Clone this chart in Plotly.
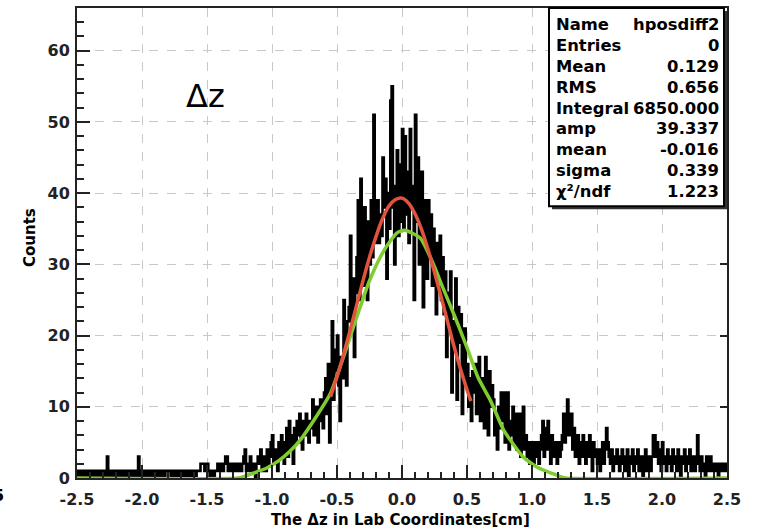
import numpy as np
import plotly.graph_objects as go

# ---------------- data ----------------
X_MIN = -2.5
BIN_WIDTH = 0.01

# histogram counts, 500 bins of 0.01 from -2.5 to 2.5 (rows of 10 bins = 0.1)
counts = [
    1,0,1,1,0,0,1,0,1,1,   # -2.5
    0,1,1,0,0,1,0,1,0,0,   # -2.4
    1,0,1,3,0,1,0,0,1,0,   # -2.3
    1,1,0,0,1,0,0,1,1,0,   # -2.2
    0,1,0,1,1,0,1,3,0,1,   # -2.1
    0,0,1,0,0,1,1,0,1,0,   # -2.0
    1,0,0,1,1,0,1,0,1,1,   # -1.9
    1,1,0,1,0,1,1,0,0,1,   # -1.8
    0,1,1,0,1,1,0,1,1,0,   # -1.7
    1,0,1,1,1,2,2,2,1,1,   # -1.6
    2,1,0,1,1,0,1,1,2,1,   # -1.5
    1,2,1,2,3,3,1,2,1,2,   # -1.4
    2,1,1,2,1,2,1,2,3,4,   # -1.3
    1,2,1,3,2,1,2,0,2,3,   # -1.2
    2,4,1,3,2,1,4,2,3,5,   # -1.1
    6,2,3,4,1,5,3,6,4,2,   # -1.0
    5,7,3,8,4,6,2,7,5,8,   # -0.9
    6,9,5,4,8,6,9,7,5,8,   # -0.8
    7,11,6,9,10,5,8,11,9,7,  # -0.7
    12,14,9,16,5,13,22,11,18,15,  # -0.6
    20,13,8,17,14,25,19,13,22,24,  # -0.5
    34,22,28,17,26,31,39,25,42,30,  # -0.4
    27,38,33,25,36,30,39,31,51,33,  # -0.3
    36,39,33,37,34,45,38,42,28,40,  # -0.2
    35,53,55,38,30,41,46,34,44,36,  # -0.1
    49,35,48,37,43,33,49,38,41,25,  # 0.0
    51,36,45,30,40,43,24,36,39,28,  # 0.1
    39,31,37,27,35,30,23,33,28,34,  # 0.2
    25,31,23,29,17,26,21,29,12,22,  # 0.3
    18,28,11,24,19,23,9,17,21,13,   # 0.4
    16,10,14,8,15,12,16,9,13,17,    # 0.5
    8,14,11,7,17,12,6,15,10,13,     # 0.6
    11,6,9,4,10,7,12,8,12,5,        # 0.7
    9,12,4,8,6,10,5,9,4,7,          # 0.8
    9,3,7,10,4,6,3,5,2,5,           # 0.9
    4,2,5,3,5,2,4,6,8,3,            # 1.0
    7,4,8,5,2,6,3,5,4,2,            # 1.1
    5,3,4,6,9,5,7,11,6,8,           # 1.2
    9,4,7,3,5,6,2,5,3,6,            # 1.3
    4,2,5,3,6,4,1,5,3,4,            # 1.4
    2,4,1,3,5,2,4,7,5,3,            # 1.5
    2,4,1,3,2,4,3,1,2,4,            # 1.6
    3,1,2,4,0,3,2,4,1,3,            # 1.7
    2,4,1,2,3,0,2,4,1,3,            # 1.8
    2,1,3,6,6,3,5,2,4,1,            # 1.9
    5,2,3,1,4,2,3,1,4,2,            # 2.0
    3,1,4,2,0,3,2,4,1,3,            # 2.1
    2,4,1,3,2,1,3,6,2,1,            # 2.2
    3,1,2,0,3,1,2,3,1,2,            # 2.3
    1,2,1,0,2,1,2,1,2,1,            # 2.4
]

# red fit curve
red_x = [-0.55, -0.50, -0.45, -0.40, -0.35, -0.30, -0.25, -0.20, -0.15, -0.10, -0.05,
         0.00, 0.05, 0.10, 0.15, 0.20, 0.25, 0.30, 0.35, 0.40, 0.45, 0.50, 0.53]
red_y = [11.4, 14.2, 17.3, 20.7, 24.2, 27.7, 31.0, 33.9, 36.4, 38.2, 39.1,
         39.3, 38.6, 37.1, 34.9, 32.1, 28.9, 25.5, 22.0, 18.5, 15.3, 12.4, 10.8]

# green curve
green_x = [-2.5, -1.26, -1.22, -1.14, -1.04, -0.95, -0.86, -0.78, -0.66, -0.55, -0.45,
           -0.35, -0.25, -0.14, -0.04, 0.02, 0.14, 0.23, 0.315, 0.41, 0.50, 0.585,
           0.68, 0.78, 0.85, 0.93, 1.04, 1.16, 1.22, 1.26, 2.5]
green_y = [0.0, 0.0, 0.2, 0.7, 1.4, 2.4, 3.8, 5.4, 8.6, 11.9, 17.0,
           22.5, 27.7, 31.9, 34.4, 34.8, 33.7, 30.5, 26.7, 22.5, 18.3, 14.1,
           10.9, 6.8, 4.9, 3.0, 1.5, 0.6, 0.2, 0.0, 0.0]

stats_labels = ["Name", "Entries", "Mean", "RMS", "Integral", "amp", "mean", "sigma", "χ²/ndf"]
stats_values = ["hposdiff2", "0", "0.129", "0.656", "6850.000", "39.337", "-0.016", "0.339", "1.223"]

x_ticks = [-2.5, -2.0, -1.5, -1.0, -0.5, 0.0, 0.5, 1.0, 1.5, 2.0, 2.5]
x_tick_text = ["-2.5", "-2.0", "-1.5", "-1.0", "-0.5", "0.0", "0.5", "1.0", "1.5", "2.0", "2.5"]
y_ticks = [0, 10, 20, 30, 40, 50, 60]

# ---------------- figure ----------------
W, H = 759, 532
L, R, T, B = 77, 32, 6, 54
PW, PH = W - L - R, H - T - B

def px(xp):
    return (xp - L) / PW

def py(yp):
    return (H - B - yp) / PH

edges = X_MIN + BIN_WIDTH * np.arange(len(counts) + 1)
step_y = list(counts) + [counts[-1]]

FONT = "DejaVu Sans"

fig = go.Figure()
fig.add_trace(go.Scatter(x=edges, y=step_y, mode="lines", line=dict(color="black", width=2.6, shape="hv"),
                         hoverinfo="skip", showlegend=False))
fig.add_trace(go.Scatter(x=green_x, y=green_y, mode="lines", line=dict(color="#7fcc2e", width=3.5, shape="spline", smoothing=0.6),
                         showlegend=False))
fig.add_trace(go.Scatter(x=red_x, y=red_y, mode="lines", line=dict(color="#e2533d", width=3.5, shape="spline"),
                         showlegend=False))
# invisible trace on right axis for mirrored ticks
fig.add_trace(go.Scatter(x=[0], y=[0], yaxis="y2", mode="markers", marker=dict(opacity=0), showlegend=False, hoverinfo="skip"))

tickfont = dict(family=FONT, size=16, color="#222", weight="bold")

fig.update_layout(
    width=W, height=H,
    margin=dict(l=L, r=R, t=T, b=B),
    paper_bgcolor="white", plot_bgcolor="white",
    showlegend=False,
    xaxis=dict(range=[-2.5, 2.5], tickmode="array", tickvals=x_ticks, ticktext=x_tick_text,
               ticks="inside", ticklen=13, tickwidth=2, tickcolor="#222",
               minor=dict(dtick=0.1, ticks="inside", ticklen=6, tickwidth=2, tickcolor="#222", showgrid=False),
               showline=True, linecolor="#222", linewidth=2, mirror=True,
               showgrid=True, gridcolor="#c8c8c8", griddash="dash", gridwidth=1,
               zeroline=False, tickfont=tickfont, ticklabelstandoff=6),
    yaxis=dict(range=[0, 66], tickmode="array", tickvals=y_ticks,
               ticks="inside", ticklen=13, tickwidth=2, tickcolor="#222",
               minor=dict(dtick=2, ticks="inside", ticklen=7, tickwidth=2, tickcolor="#222", showgrid=False),
               showline=True, linecolor="#222", linewidth=2, mirror=True,
               showgrid=True, gridcolor="#c8c8c8", griddash="dash", gridwidth=1,
               zeroline=False, tickfont=tickfont, ticklabelstandoff=2),
    yaxis2=dict(range=[0, 66], overlaying="y", side="right", tickmode="array", tickvals=y_ticks,
                ticks="inside", ticklen=7, tickwidth=2, tickcolor="#222", showticklabels=False,
                showgrid=False, zeroline=False, showline=False),
)

def note(text, xp, yp, size, xanchor="center", angle=0, bold=True):
    font = dict(family=FONT, size=size, color="black")
    if bold:
        font["weight"] = "bold"
    fig.add_annotation(text=text, xref="paper", yref="paper", x=px(xp), y=py(yp),
                       xanchor=xanchor, yanchor="middle", textangle=angle,
                       showarrow=False, font=font)

# axis titles
note("Counts", 30, 237, 15, angle=-90)
note("The Δz in Lab Coordinates[cm]", 400, 520, 15)
# clipped label at left edge
note("5", 6, 496, 16, xanchor="right")
# Δz label
note("Δz", 205, 94, 32, bold=False)

# stats box
bx0, by0, bx1, by1 = 549, 6, 724, 205
fig.add_shape(type="rect", xref="paper", yref="paper", x0=px(bx0 + 3), y0=py(by1 + 3), x1=px(bx1 + 3), y1=py(by0 + 3),
              fillcolor="#333", line=dict(width=0), layer="above")
fig.add_shape(type="rect", xref="paper", yref="paper", x0=px(bx0), y0=py(by1), x1=px(bx1), y1=py(by0),
              fillcolor="white", line=dict(color="black", width=2), layer="above")
for i, (lab, val) in enumerate(zip(stats_labels, stats_values)):
    yy = 23 + 20.9 * i
    note(lab, 554, yy, 16.4, xanchor="left")
    note(val, 721, yy, 16.4, xanchor="right")

fig.write_html("out.html")
